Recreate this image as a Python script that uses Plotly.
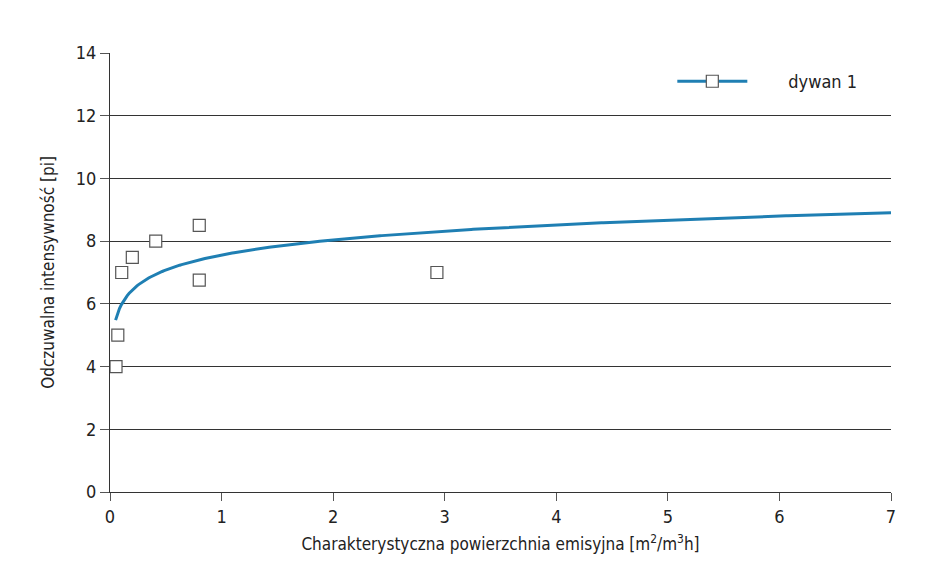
import numpy as np
import plotly.graph_objects as go

# Data
x_points = [0.054, 0.07, 0.105, 0.2, 0.41, 0.8, 0.8, 2.93]
y_points = [4.0, 5.0, 7.0, 7.48, 8.0, 8.5, 6.76, 7.0]
series_name = "dywan 1"
x_ticks = [0, 1, 2, 3, 4, 5, 6, 7]
y_ticks = [0, 2, 4, 6, 8, 10, 12, 14]

# Logarithmic trendline fitted to the data (as in the original)
b, a = np.polyfit(np.log(x_points), y_points, 1)
x_fit = np.linspace(0.05, 7, 400)
y_fit = a + b * np.log(x_fit)

BLUE = "#1f7fb3"
FONT = "Arial Narrow, Liberation Sans Narrow, DejaVu Sans Condensed, Roboto, sans-serif"
TXT = "#222222"

fig = go.Figure()
fig.add_trace(go.Scatter(x=x_fit, y=y_fit, mode="lines",
                         line=dict(color=BLUE, width=3), showlegend=False,
                         hoverinfo="skip"))
fig.add_trace(go.Scatter(x=x_points, y=y_points, mode="markers",
                         marker=dict(symbol="square", size=12, color="white",
                                     line=dict(color="#555555", width=1.2)),
                         showlegend=False))
fig.add_trace(go.Scatter(x=[None], y=[None], mode="lines+markers",
                         name="\u00a0" * 7 + series_name,
                         line=dict(color=BLUE, width=3),
                         marker=dict(symbol="square", size=12, color="white",
                                     line=dict(color="#555555", width=1.2))))

fig.update_layout(
    width=938, height=587,
    margin=dict(l=110, r=47, t=53, b=95),
    plot_bgcolor="white", paper_bgcolor="white",
    font=dict(family=FONT, size=17, color=TXT),
    legend=dict(x=0.72, y=0.935, xanchor="left", yanchor="middle",
                bgcolor="rgba(0,0,0,0)", itemwidth=70,
                font=dict(size=18, family=FONT, color=TXT)),
    xaxis=dict(range=[0, 7], tickvals=x_ticks, showgrid=False, zeroline=False,
               showline=True, linecolor="#333333", linewidth=1.2,
               ticks="outside", ticklen=8, tickcolor="#555555",
               tickfont=dict(size=18, family=FONT, color=TXT),
               title=dict(text="Charakterystyczna powierzchnia emisyjna [m<sup>2</sup>/m<sup>3</sup>h]",
                          font=dict(size=17, family=FONT, color=TXT), standoff=12)),
    yaxis=dict(range=[0, 14], tickvals=y_ticks, showgrid=True, gridcolor="#333333",
               gridwidth=1.2, zeroline=False,
               showline=True, linecolor="#333333", linewidth=1.2,
               ticks="outside", ticklen=9, tickcolor="#555555",
               tickfont=dict(size=18, family=FONT, color=TXT),
               title=dict(text="Odczuwalna intensywność [pi]",
                          font=dict(size=17, family=FONT, color=TXT), standoff=16)),
)

fig.write_html("out.html")
